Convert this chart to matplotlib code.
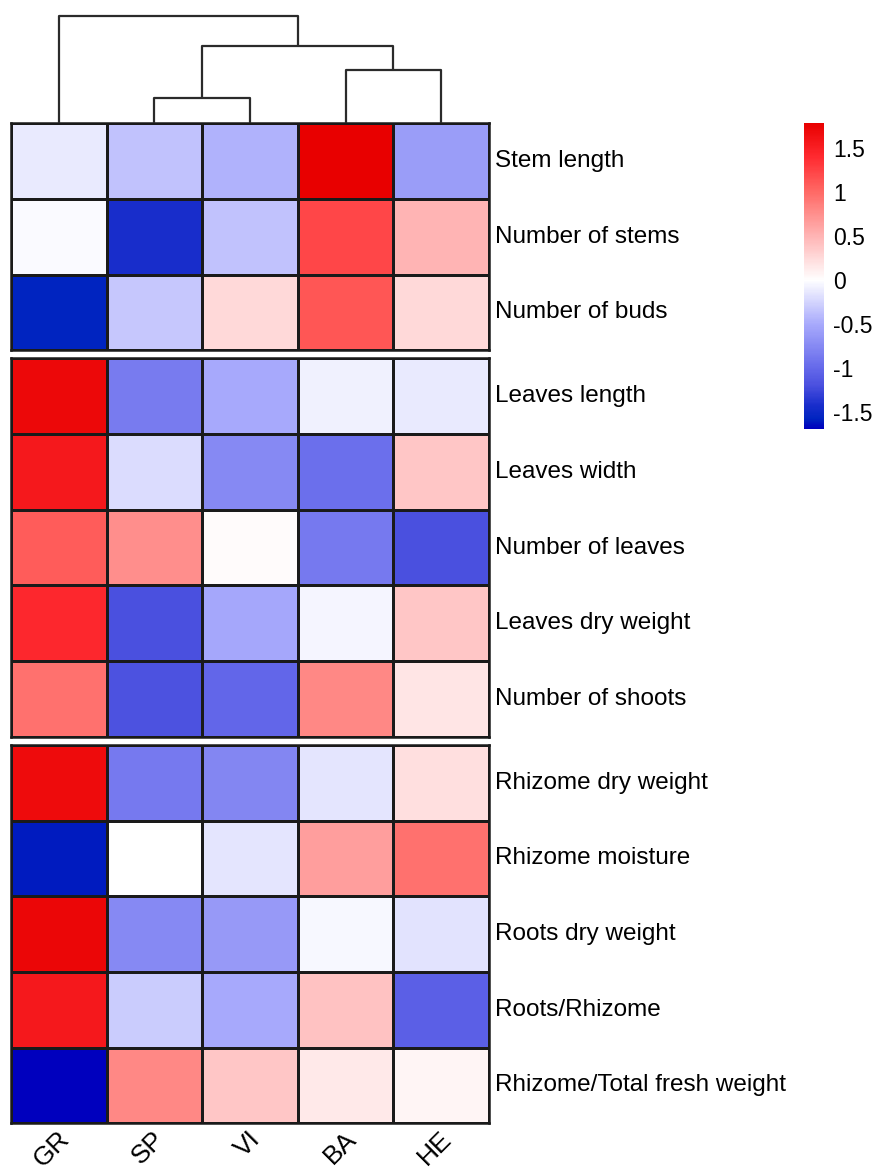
import numpy as np
import matplotlib
matplotlib.use("Agg")
import matplotlib.pyplot as plt
from matplotlib.colors import LinearSegmentedColormap, Normalize

plt.rcParams['font.family'] = ['Liberation Sans', 'DejaVu Sans']

# genotypes in dendrogram order
genotypes = ["GR", "SP", "VI", "BA", "HE"]

# row groups (z-scores per trait)
stem_traits = ["Stem length", "Number of stems", "Number of buds"]
stem_vals = [
    [-0.12, -0.35, -0.45, 1.78, -0.60],
    [-0.03, -1.42, -0.35, 1.22, 0.50],
    [-1.58, -0.33, 0.25, 1.12, 0.25],
]
leaf_traits = ["Leaves length", "Leaves width", "Number of leaves",
               "Leaves dry weight", "Number of shoots"]
leaf_vals = [
    [1.70, -0.85, -0.50, -0.08, -0.13],
    [1.55, -0.20, -0.75, -0.95, 0.38],
    [1.08, 0.75, 0.02, -0.87, -1.20],
    [1.42, -1.20, -0.52, -0.05, 0.38],
    [0.95, -1.18, -1.02, 0.80, 0.17],
]
rhizome_traits = ["Rhizome dry weight", "Rhizome moisture", "Roots dry weight",
                  "Roots/Rhizome", "Rhizome/Total fresh weight"]
rhizome_vals = [
    [1.68, -0.87, -0.77, -0.15, 0.22],
    [-1.60, 0.00, -0.15, 0.65, 0.95],
    [1.72, -0.75, -0.62, -0.04, -0.16],
    [1.55, -0.30, -0.50, 0.40, -1.08],
    [-1.69, 0.80, 0.38, 0.15, 0.06],
]

# column clustering: (left position, right position, merge height)
merge_pairs = [(1, 2), (3, 4), (1.5, 3.5), (0, 2.5)]
merge_heights = [1.2, 2.5, 3.6, 5.0]

vmin, vmax = -1.69, 1.78
stops = [(-1.69, "#0000BE"), (-1.58, "#0024C0"), (-1.42, "#1A2ECC"),
         (-1.2, "#4A50DF"), (-1.0, "#6569EA"), (-0.5, "#A8AAFC"),
         (0.0, "#FFFFFF"), (0.5, "#FFB4B4"), (1.0, "#FF6A66"),
         (1.4, "#FF2A30"), (1.78, "#E80000")]
cmap = LinearSegmentedColormap.from_list(
    "bwr_z", [((v - vmin) / (vmax - vmin), c) for v, c in stops])
norm = Normalize(vmin=vmin, vmax=vmax)

W, H = 875, 1167
fig = plt.figure(figsize=(W / 100, H / 100), dpi=100)

def fax(x0, y0, x1, y1):
    # axes from pixel box (top-left origin)
    return fig.add_axes([x0 / W, 1 - y1 / H, (x1 - x0) / W, (y1 - y0) / H])

left, right = 11, 489
groups = [(stem_traits, stem_vals, 123.3, 350.3),
          (leaf_traits, leaf_vals, 358.3, 736.7),
          (rhizome_traits, rhizome_vals, 745.0, 1123.3)]

fs = 17.5
last_ax = None
for names, vals, top, bot in groups:
    ax = fax(left, top, right, bot)
    arr = np.array(vals)
    ax.pcolormesh(arr, cmap=cmap, norm=norm, edgecolors="#1a1a1a", linewidth=1.0)
    ax.set_xlim(0, len(genotypes))
    ax.set_ylim(len(names), 0)
    ax.set_xticks([])
    ax.set_yticks([])
    for s in ax.spines.values():
        s.set_linewidth(1.8)
        s.set_color("#1a1a1a")
    for i, n in enumerate(names):
        ax.text(5.06, i + 0.5, n, fontsize=fs, va="center", ha="left",
                clip_on=False)
    last_ax = ax

# rotated genotype labels below the last block
for j, g in enumerate(genotypes):
    last_ax.text(j + 0.57, 5.16, g, fontsize=19, rotation=45,
                 rotation_mode="anchor", ha="right", va="center", clip_on=False)

# dendrogram on top
dax = fax(left, 16, right, 123.3)
dax.set_xlim(-0.5, len(genotypes) - 0.5)
dax.set_ylim(0, merge_heights[-1])
dax.axis("off")
node_h = {}
for (a, b), h in zip(merge_pairs, merge_heights):
    ha = node_h.get(a, 0.0)
    hb = node_h.get(b, 0.0)
    dax.plot([a, a, b, b], [ha, h, h, hb], color="#2b2b2b", lw=1.6,
             solid_capstyle="butt", clip_on=False)
    node_h[(a + b) / 2] = h

# colour key
cax = fax(804, 123, 824, 429)
sm = plt.cm.ScalarMappable(cmap=cmap, norm=norm)
cb = fig.colorbar(sm, cax=cax)
cb.outline.set_visible(False)
ticks = [1.5, 1, 0.5, 0, -0.5, -1, -1.5]
cb.set_ticks(ticks)
cb.set_ticklabels(["1.5", "1", "0.5", "0", "-0.5", "-1", "-1.5"])
cax.tick_params(length=0, pad=6.5, labelsize=16.5)

fig.savefig("out.png", dpi=100)
